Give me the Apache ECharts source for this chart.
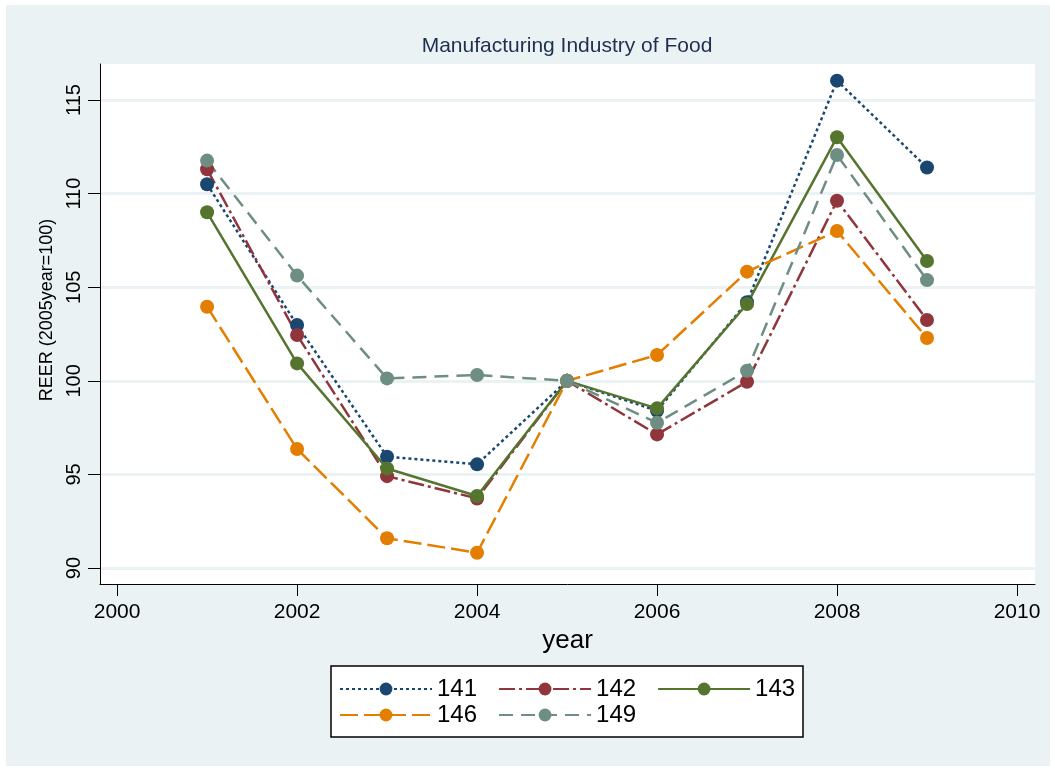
<!DOCTYPE html>
<html>
<head>
<meta charset="utf-8">
<script src="https://cdn.jsdelivr.net/npm/echarts@6/dist/echarts.min.js"></script>
<style>
  html, body { margin: 0; padding: 0; background: #fff; }
  #bg { position: absolute; left: 6px; top: 5px; width: 1044px; height: 761px; background: #eaf2f3; }
  #main { position: absolute; left: 0; top: 0; width: 1055px; height: 771px; }
</style>
</head>
<body>
<div id="bg"></div>
<div id="main"></div>
<script>
// data
var years = [2001, 2002, 2003, 2004, 2005, 2006, 2007, 2008, 2009];
var s141 = [110.5, 102.98, 95.95, 95.54, 100, 98.4, 104.2, 116.03, 111.39];
var s142 = [111.3, 102.45, 94.91, 93.72, 100, 97.14, 99.95, 109.62, 103.25];
var s143 = [109.0, 100.93, 95.32, 93.85, 100, 98.53, 104.1, 113.01, 106.4];
var s146 = [103.96, 96.36, 91.59, 90.82, 100, 101.38, 105.83, 108.0, 102.29];
var s149 = [111.76, 105.62, 100.13, 100.31, 100, 97.76, 100.54, 112.06, 105.38];
var xTicks = [2000, 2002, 2004, 2006, 2008, 2010];
var yTicks = [90, 95, 100, 105, 110, 115];
var legendRow1 = ['141', '142', '143'];
var legendRow2 = ['146', '149'];

var FONT = '"Liberation Sans", Arial, sans-serif';

function pairs(vals){
	return years.map(function(y, i){ return [y, vals[i]]; });
}

function mkSeries(name, vals, color, dash){
	return {
		name: name,
		type: 'line',
		data: pairs(vals),
		symbol: 'circle',
		symbolSize: 14,
		itemStyle: {color: color},
		lineStyle: {color: color, width: 2.5, type: dash, cap: 'butt'},
		emphasis: {disabled: true},
		animation: false
	};
}

function mkLegend(names, top){
	return {
		left: 339, top: top,
		orient: 'horizontal',
		padding: 0,
		itemWidth: 92, itemHeight: 16, itemGap: 21,
		data: names,
		textStyle: {fontFamily: FONT, fontSize: 24, color: '#000'}
	};
}

var myChart = echarts.init(document.getElementById('main'));
var option = {
	animation: false,
	textStyle: {fontFamily: FONT},
	title: {
		text: 'Manufacturing Industry of Food',
		left: 567, top: 36, textAlign: 'center', padding: 0,
		textStyle: {fontFamily: FONT, fontSize: 21, fontWeight: 'normal', color: '#1e2f50'}
	},
	grid: {
		left: 100, right: 20, top: 64, bottom: 187,
		show: true, backgroundColor: '#fff', borderWidth: 0
	},
	xAxis: {
		type: 'value',
		min: 1999.81, max: 2010.2,
		name: 'year', nameLocation: 'middle', nameGap: 40,
		nameTextStyle: {fontFamily: FONT, fontSize: 26, color: '#000'},
		axisLine: {onZero: false, lineStyle: {color: '#000', width: 1}},
		axisTick: {show: true, length: 12, customValues: xTicks, lineStyle: {color: '#000'}},
		axisLabel: {
			customValues: xTicks, margin: 18, fontFamily: FONT, fontSize: 21, color: '#000',
			formatter: function(v){ return String(v); }
		},
		splitLine: {show: false}
	},
	yAxis: {
		type: 'value',
		min: 89.15, max: 116.92,
		name: 'REER (2005year=100)', nameLocation: 'middle', nameGap: 40, nameRotate: 90,
		nameTextStyle: {fontFamily: FONT, fontSize: 18, color: '#000', padding: [0, 0, 0, 28]},
		axisLine: {show: true, onZero: false, lineStyle: {color: '#000', width: 1}},
		axisTick: {show: true, length: 12, customValues: yTicks, lineStyle: {color: '#000'}},
		axisLabel: {customValues: yTicks, rotate: 90, margin: 16, fontFamily: FONT, fontSize: 20, color: '#000'},
		splitLine: {show: true, lineStyle: {color: '#eaf2f3', width: 3}}
	},
	legend: [mkLegend(legendRow1, 677), mkLegend(legendRow2, 703)],
	graphic: [{
		type: 'rect', z: 0,
		shape: {x: 331, y: 666, width: 472, height: 71},
		style: {fill: '#fff', stroke: '#000', lineWidth: 1.5}
	}],
	series: [
		mkSeries('141', s141, '#1a476f', [3, 3]),
		mkSeries('142', s142, '#90353b', [16, 4, 3, 4]),
		mkSeries('143', s143, '#55752f', 'solid'),
		mkSeries('146', s146, '#e37e00', [18, 6]),
		mkSeries('149', s149, '#6e8e84', [14, 8])
	]
};
myChart.setOption(option);
</script>
</body>
</html>
